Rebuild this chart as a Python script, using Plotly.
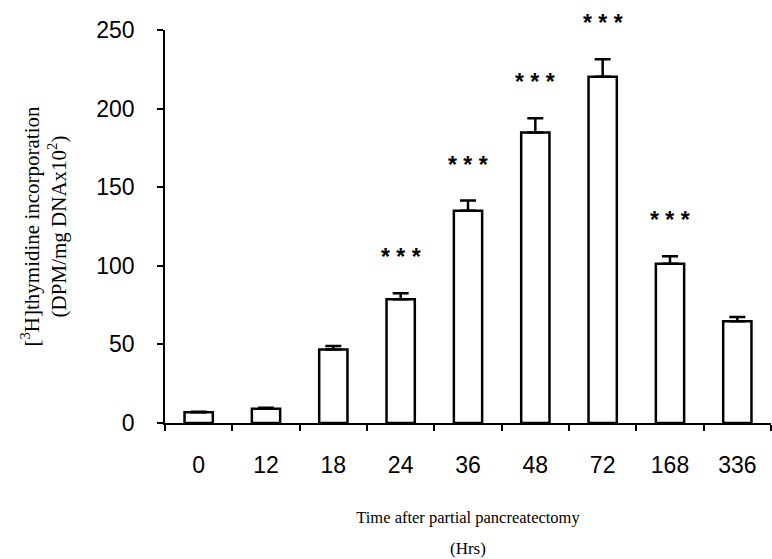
import plotly.graph_objects as go

categories = ["0", "12", "18", "24", "36", "48", "72", "168", "336"]
values = [6.8, 9.1, 46.7, 78.7, 135.0, 184.8, 220.2, 101.3, 64.7]
errors = [0.4, 0.6, 2.3, 3.8, 6.5, 9.0, 11.2, 4.7, 2.7]
signif = ["", "", "", "***", "***", "***", "***", "***", ""]
y_ticks = [0, 50, 100, 150, 200, 250]

fig = go.Figure()
fig.add_trace(go.Bar(
    x=categories, y=values,
    width=0.42,
    marker=dict(color="white", line=dict(color="black", width=2.5)),
    error_y=dict(type="data", symmetric=False, array=errors,
                 arrayminus=[0] * len(errors), color="black",
                 thickness=2.5, width=8),
    cliponaxis=False,
))

for i, (v, e, s) in enumerate(zip(values, errors, signif)):
    if s:
        fig.add_annotation(x=i, y=v + e, text="<b>" + " ".join(s) + "</b>",
                           showarrow=False, xref="x", yref="y",
                           yanchor="middle", yshift=36,
                           font=dict(family="Arial, Liberation Sans", size=23,
                                     color="black"))

fig.add_annotation(x=0.5, y=-0.32, xref="paper", yref="paper",
                   text="(Hrs)", showarrow=False, yanchor="middle",
                   font=dict(family="Times New Roman, Liberation Serif",
                             size=17, color="black"))

fig.update_layout(
    width=772, height=559,
    margin=dict(l=165, r=1, t=30, b=136),
    paper_bgcolor="white", plot_bgcolor="white",
    showlegend=False,
    font=dict(family="Arial, Liberation Sans", color="black"),
)
fig.update_xaxes(
    type="category", categoryorder="array", categoryarray=categories,
    range=[-0.5, len(categories) - 0.5], autorange=False,
    showline=True, linecolor="black", linewidth=1.5,
    ticks="outside", ticklen=6, tickwidth=1.5, tickcolor="black",
    tickson="boundaries", showgrid=False, tickangle=0,
    tickfont=dict(size=23, family="Arial, Liberation Sans"),
    ticklabelstandoff=21,
    title=dict(text="Time after partial pancreatectomy",
               font=dict(family="Times New Roman, Liberation Serif", size=16.5),
               standoff=34),
)
fig.update_yaxes(
    range=[0, 250], autorange=False, tickvals=y_ticks, showline=True,
    linecolor="black", linewidth=1.5, ticks="outside", ticklen=6,
    tickwidth=1.5, tickcolor="black", showgrid=False, zeroline=False,
    tickfont=dict(size=23, family="Arial, Liberation Sans"),
    ticklabelstandoff=18,
    title=dict(text="[<sup>3</sup>H]thymidine incorporation<br>(DPM/mg DNAx10<sup>2</sup>)",
               font=dict(family="Times New Roman, Liberation Serif", size=21),
               standoff=24),
)

fig.write_html("out.html")
